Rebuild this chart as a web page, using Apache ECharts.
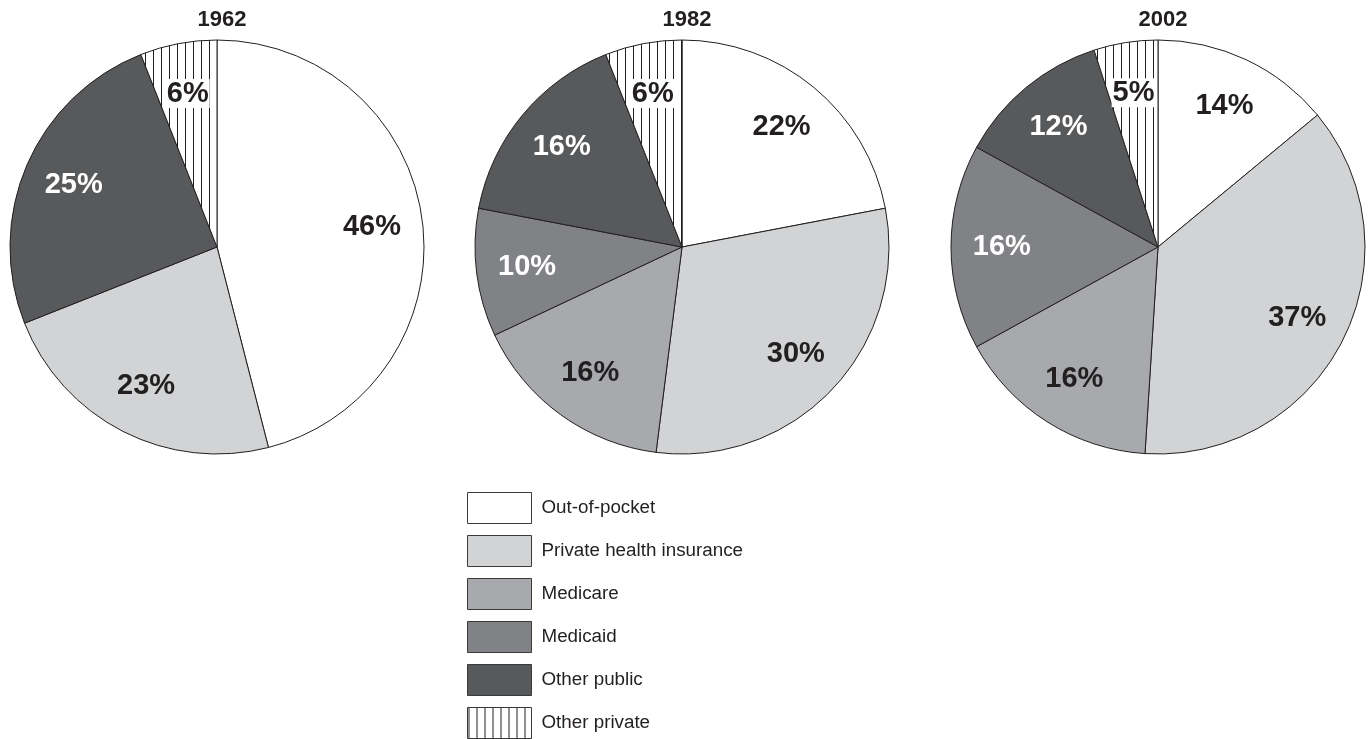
<!DOCTYPE html>
<html>
<head>
<meta charset="utf-8">
<script src="https://cdn.jsdelivr.net/npm/echarts@6/dist/echarts.min.js"></script>
<style>html,body{margin:0;padding:0;background:#fff}#c{width:1369px;height:739px}</style>
</head>
<body>
<div id="c"></div>
<script>
const categories = ['Out-of-pocket','Private health insurance','Medicare','Medicaid','Other public','Other private'];
const years = ['1962','1982','2002'];
const v1962 = [46, 23, null, null, 25, 6];
const v1982 = [22, 30, 16, 10, 16, 6];
const v2002 = [14, 37, 16, 16, 12, 5];

const FONT = '"Liberation Sans", Arial, Helvetica, sans-serif';
const INK = '#231f20';

// vertical stripe pattern for "Other private"
const pc = document.createElement('canvas');
pc.width = 8; pc.height = 8;
const g = pc.getContext('2d');
g.fillStyle = '#fff'; g.fillRect(0,0,8,8);
g.fillStyle = '#231f20'; g.fillRect(1,0,1,8);
const stripe = {image: pc, repeat: 'repeat'};

const fills = ['#ffffff', '#d1d3d4', '#a7a9ac', '#808285', '#58595b', stripe];
const labelColors = [INK, INK, INK, '#ffffff', '#ffffff', INK];

const R = 207;
const centers = [[217, 247], [682, 247], [1158, 247]];
const valueSets = [v1962, v1982, v2002];

function buildData(vals, forLabels) {
  const out = [];
  vals.forEach((v, i) => {
    if (v === null) return;
    const item = {name: categories[i], value: v};
    if (!forLabels) {
      item.itemStyle = {color: fills[i]};
    } else {
      item.label = {color: labelColors[i]};
      if (i === 5) item.label.backgroundColor = '#fff';
    }
    out.push(item);
  });
  return out;
}

const series = [];
valueSets.forEach((vals, k) => {
  series.push({
    type: 'pie', name: years[k], center: centers[k], radius: [0, R],
    startAngle: 90, clockwise: true, animation: false, silent: true,
    itemStyle: {borderColor: INK, borderWidth: 1},
    label: {show: false}, labelLine: {show: false},
    emphasis: {disabled: true},
    data: buildData(vals, false)
  });
});
valueSets.forEach((vals, k) => {
  series.push({
    type: 'pie', name: years[k] + ' labels', center: centers[k], radius: [R * 0.48, R],
    startAngle: 90, clockwise: true, animation: false, silent: true,
    itemStyle: {color: 'rgba(0,0,0,0)', borderWidth: 0},
    label: {show: true, position: 'inside', formatter: '{c}%', fontFamily: FONT,
            fontWeight: 'bold', fontSize: 29, padding: [0, 1]},
    labelLine: {show: false},
    emphasis: {disabled: true},
    data: buildData(vals, true)
  });
});

const chart = echarts.init(document.getElementById('c'), null, {renderer: 'canvas'});
chart.setOption({
  backgroundColor: '#fff',
  animation: false,
  title: years.map((y, k) => ({
    text: y, left: centers[k][0], top: 4, textAlign: 'center',
    textStyle: {fontFamily: FONT, fontWeight: 'bold', fontSize: 22, color: INK}
  })),
  legend: {
    orient: 'vertical', left: 467, top: 492, padding: 0,
    itemWidth: 64, itemHeight: 31, itemGap: 11,
    icon: 'rect', selectedMode: false,
    data: categories,
    itemStyle: {borderWidth: 1, borderColor: '#3a3a3a'},
    textStyle: {fontFamily: FONT, fontSize: 18.8, color: INK, padding: [0, 0, 0, 5]}
  },
  series: series
});
</script>
</body>
</html>
